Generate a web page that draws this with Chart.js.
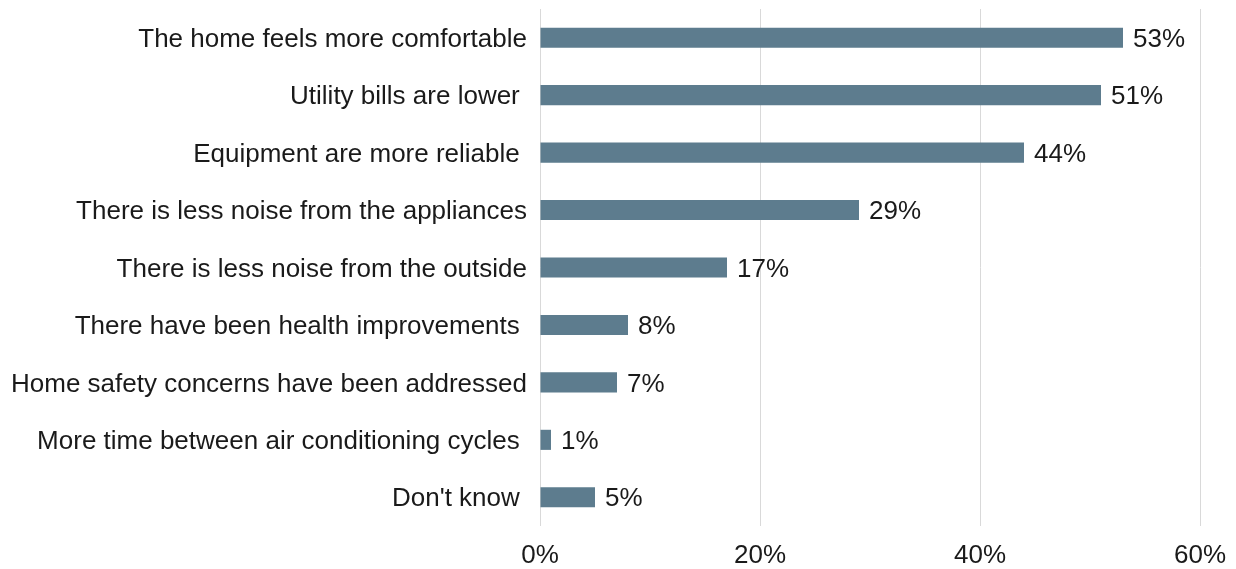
<!DOCTYPE html>
<html>
<head>
<meta charset="utf-8">
<script src="https://cdn.jsdelivr.net/npm/chart.js@4/dist/chart.umd.min.js"></script>
<style>
  html, body { margin: 0; padding: 0; background: #ffffff; }
  #wrap { width: 1236px; height: 569px; position: relative; }
</style>
</head>
<body>
<div id="wrap"><canvas id="chart"></canvas></div>
<script>
// Reported benefits after the home upgrade (share of respondents, %)
const categories = [
  "The home feels more comfortable",
  "Utility bills are lower ",
  "Equipment are more reliable ",
  "There is less noise from the appliances",
  "There is less noise from the outside",
  "There have been health improvements ",
  "Home safety concerns have been addressed",
  "More time between air conditioning cycles ",
  "Don't know "
];
const shares = [53, 51, 44, 29, 17, 8, 7, 1, 5];
const axisTicks = [0, 20, 40, 60];

const FONT = "'Liberation Sans', Arial, sans-serif";
const FONT_SIZE = 26;
const TEXT = "#1a1a1a";
const BAR = "#5d7c8e";

// Writes the percentage just past the end of each bar
const valueLabels = {
  id: "valueLabels",
  afterDatasetsDraw(chart) {
    const { ctx } = chart;
    const meta = chart.getDatasetMeta(0);
    ctx.save();
    ctx.font = FONT_SIZE + "px " + FONT;
    ctx.fillStyle = TEXT;
    ctx.textAlign = "left";
    ctx.textBaseline = "middle";
    meta.data.forEach((bar, i) => {
      ctx.fillText(shares[i] + "%", bar.x + 10, bar.y + 2);
    });
    ctx.restore();
  }
};

new Chart(document.getElementById("chart"), {
  type: "bar",
  data: {
    labels: categories,
    datasets: [{
      data: shares,
      backgroundColor: BAR,
      borderWidth: 0,
      barPercentage: 0.7,
      categoryPercentage: 0.5
    }]
  },
  options: {
    indexAxis: "y",
    responsive: true,
    maintainAspectRatio: false,
    animation: false,
    layout: { padding: { top: 9, right: 36, bottom: 0, left: 0 } },
    plugins: { legend: { display: false }, tooltip: { enabled: false } },
    scales: {
      x: {
        min: 0,
        max: 60,
        afterBuildTicks(scale) {
          scale.ticks = axisTicks.map(v => ({ value: v }));
        },
        afterFit(scale) {
          scale.height = 43;
          scale.paddingLeft = 0;
          scale.paddingRight = 0;
        },
        grid: { color: "#d9d9d9", lineWidth: 1, drawTicks: false },
        border: { display: false },
        ticks: {
          padding: 14,
          color: TEXT,
          font: { family: FONT, size: FONT_SIZE },
          callback: v => v + "%"
        }
      },
      y: {
        afterFit(scale) {
          scale.width = 540;
          scale.paddingTop = 0;
          scale.paddingBottom = 0;
        },
        grid: { display: false, drawTicks: false },
        border: { display: false },
        ticks: {
          padding: 13,
          labelOffset: 2,
          color: TEXT,
          font: { family: FONT, size: FONT_SIZE }
        }
      }
    }
  },
  plugins: [valueLabels]
});
</script>
</body>
</html>
